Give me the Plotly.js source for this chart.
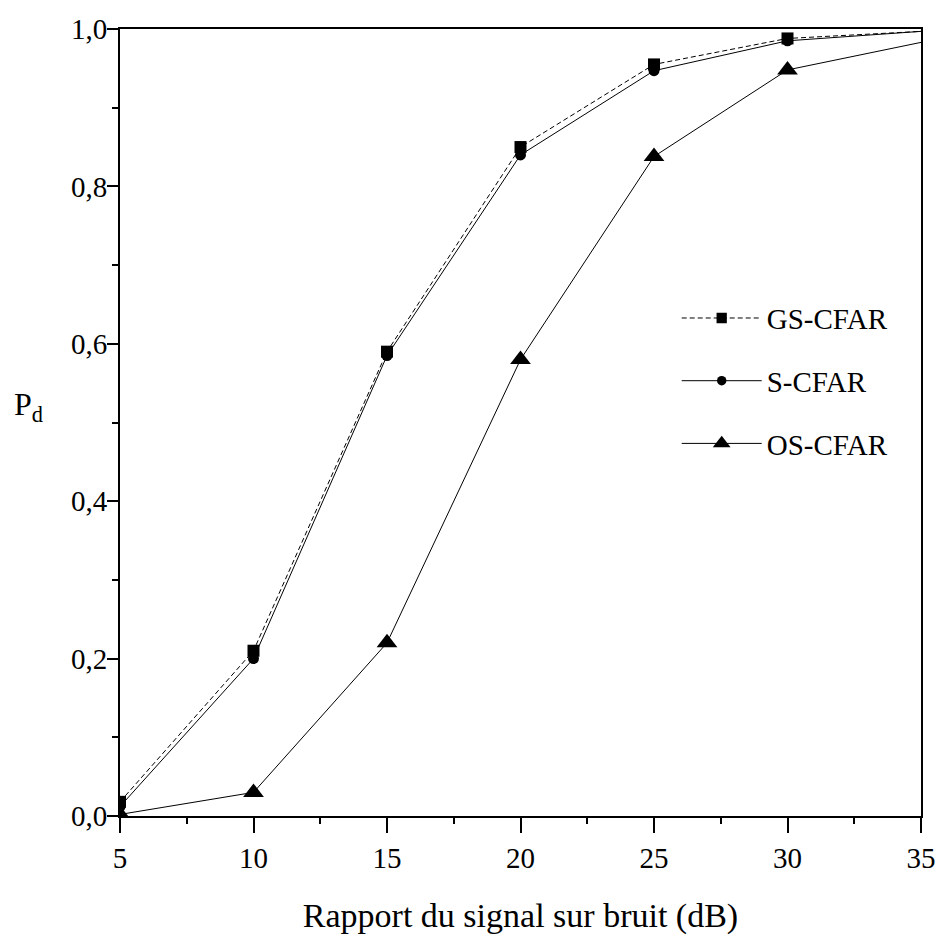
<!DOCTYPE html>
<html>
<head>
<meta charset="utf-8">
<script src="https://cdn.plot.ly/plotly-3.0.1.min.js"></script>
<style>html,body{margin:0;padding:0;background:#fff;}#plot{width:943px;height:940px;}</style>
</head>
<body>
<div id="plot"></div>
<script>
const snr = [5, 10, 15, 20, 25, 30, 35];
const gsCfar = [0.018, 0.21, 0.59, 0.85, 0.955, 0.988, 0.997];
const sCfar = [0.012, 0.20, 0.585, 0.84, 0.947, 0.985, 0.997];
const osCfar = [0.002, 0.03, 0.22, 0.58, 0.838, 0.948, 0.983];
const seriesNames = ['GS-CFAR', 'S-CFAR', 'OS-CFAR'];
const xTicks = [5, 10, 15, 20, 25, 30, 35];
const yTicks = [0, 0.2, 0.4, 0.6, 0.8, 1.0];

const font = 'Liberation Serif';
const hideLast = n => snr.map((_, i) => i === snr.length - 1 ? 0 : n);
const mk = (symbol, size) => ({symbol: symbol, size: hideLast(size), color: '#000', opacity: 1, line: {width: 0, color: '#000'}});

const traces = [
  {x: snr, y: gsCfar, name: seriesNames[0], mode: 'lines+markers', legendgroup: 'a',
   line: {color: '#000', width: 1, dash: '5px,3px'}, marker: mk('square', 12)},
  {x: snr, y: sCfar, name: seriesNames[1], mode: 'lines+markers', legendgroup: 'b',
   line: {color: '#000', width: 1}, marker: mk('circle', 11)},
  {x: snr, y: osCfar, name: seriesNames[2], mode: 'lines+markers', legendgroup: 'c',
   line: {color: '#000', width: 1}, marker: mk('triangle-up', 18)}
];

const layout = {
  width: 943, height: 940,
  margin: {l: 120, r: 22, t: 29, b: 124},
  paper_bgcolor: '#fff', plot_bgcolor: '#fff',
  separators: ', ',
  font: {family: font, size: 29, color: '#000'},
  showlegend: true,
  legend: {x: 0.695, y: 0.665, xanchor: 'left', yanchor: 'top', bgcolor: 'rgba(0,0,0,0)',
           font: {family: font, size: 29, color: '#000'}, tracegroupgap: 22, itemwidth: 80},
  xaxis: {range: [5, 35], tickvals: xTicks, ticks: 'outside', ticklen: 15, tickwidth: 2,
          tickcolor: '#000', showline: true, linewidth: 2, linecolor: '#000', mirror: true,
          showgrid: false, zeroline: false,
          minor: {dtick: 2.5, tick0: 5, ticks: 'outside', ticklen: 6, tickwidth: 2, tickcolor: '#000', showgrid: false},
          tickfont: {family: font, size: 29},
          title: {text: 'Rapport du signal sur bruit (dB)', font: {family: font, size: 34}, standoff: 30}},
  yaxis: {range: [0, 1], tickvals: yTicks, tickformat: '.1f', ticks: 'outside', ticklen: 11, tickwidth: 2,
          tickcolor: '#000', showline: true, linewidth: 2, linecolor: '#000', mirror: true,
          showgrid: false, zeroline: false, ticklabelstandoff: -6,
          minor: {dtick: 0.1, tick0: 0, ticks: 'outside', ticklen: 6, tickwidth: 2, tickcolor: '#000', showgrid: false},
          tickfont: {family: font, size: 29}},
  annotations: [
    {text: 'P<sub>d</sub>', xref: 'paper', yref: 'paper', x: -0.135, y: 0.52, xanchor: 'left', yanchor: 'middle',
     showarrow: false, font: {family: font, size: 32, color: '#000'}}
  ]
};

Plotly.newPlot('plot', traces, layout, {staticPlot: true, displayModeBar: false});
</script>
</body>
</html>
